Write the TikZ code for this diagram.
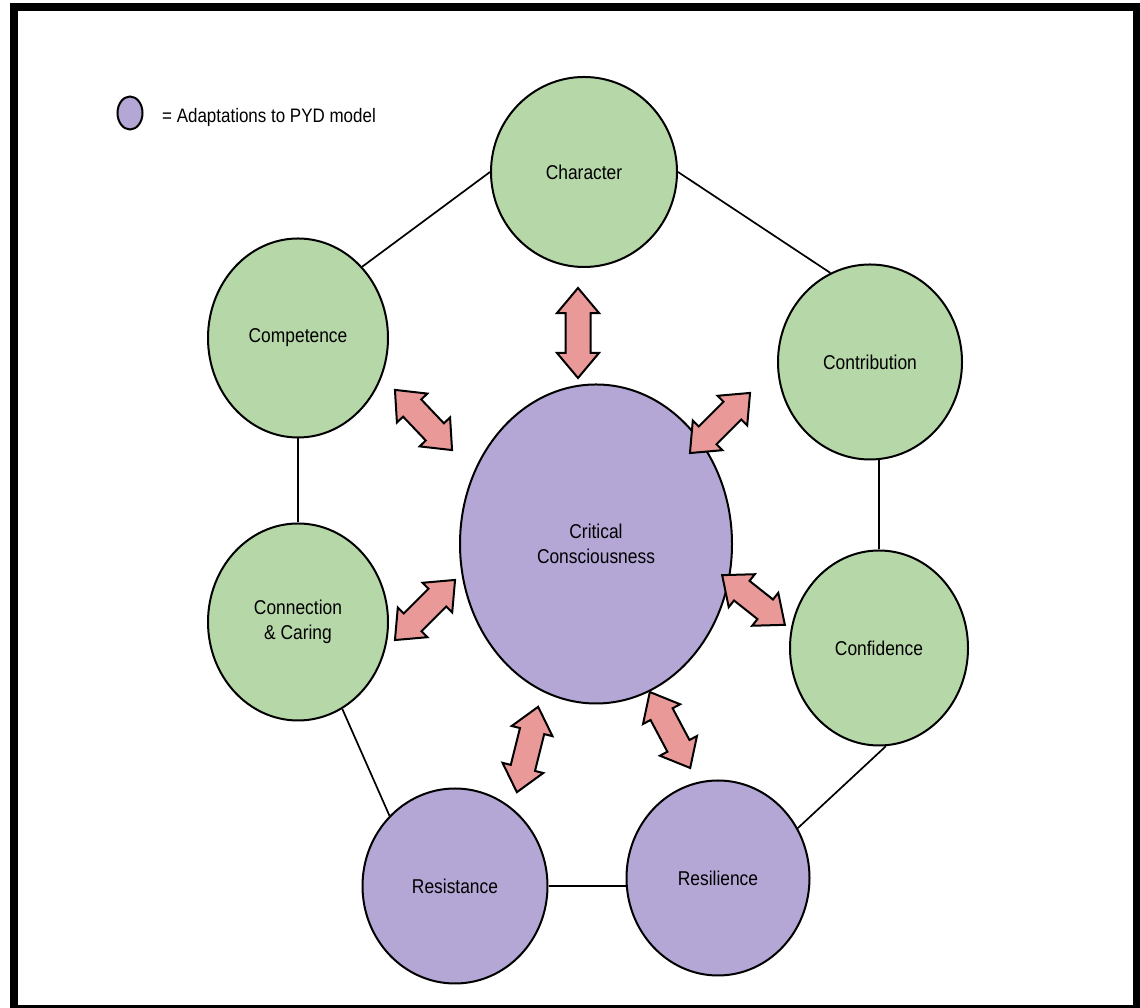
\documentclass[tikz,border=0pt]{standalone}
\usepackage{fontspec}
\setmainfont[FakeStretch=0.87]{Liberation Sans}
\usetikzlibrary{shapes.geometric,shapes.arrows}
\definecolor{pydgreen}{HTML}{B6D7A8}
\definecolor{pydpurple}{HTML}{B4A7D6}
\definecolor{pydred}{HTML}{EA9999}
\begin{document}
\begin{tikzpicture}[x=1pt,y=1pt,
    asset/.style={ellipse,draw=black,line width=2pt,fill=pydgreen,inner sep=0pt,align=center,font=\fontsize{20}{25}\selectfont},
    adapt/.style={asset,fill=pydpurple},
    link/.style={line width=1.7pt},
    twoway/.style={double arrow,draw=black,line width=2pt,fill=pydred,inner xsep=0pt,inner ysep=11.5pt,minimum width=40pt,double arrow head extend=8.5pt,double arrow tip angle=80}]
    \useasboundingbox (0,0) rectangle (1140,1008);
    % frame
    \fill[black] (10,0) rectangle (1140,1005);
    \fill[white] (18,3) rectangle (1133,997);
    % key
    \node[adapt,minimum width=25pt,minimum height=33pt] (key) at (130,895) {};
    \node[anchor=base west,inner sep=0pt,font=\fontsize{19.5}{22}\selectfont] (keytext) at (162,885) {= Adaptations to PYD model};
    % the circles
    \node[asset,minimum width=186pt,minimum height=190pt] (char) at (584,836) {Character};
    \node[asset,minimum width=180pt,minimum height=199pt] (comp) at (298,670) {Competence};
    \node[asset,minimum width=184pt,minimum height=195pt] (contr) at (870,646) {Contribution};
    \node[asset,minimum width=178pt,minimum height=195pt] (conf) at (879,360) {Confidence};
    \node[asset,minimum width=180pt,minimum height=197pt] (conn) at (298,386) {Connection\\\& Caring};
    \node[adapt,minimum width=185pt,minimum height=195pt] (resist) at (455,122) {Resistance};
    \node[adapt,minimum width=183pt,minimum height=195pt] (resil) at (718,130) {Resilience};
    \node[adapt,minimum width=272pt,minimum height=319pt] (cc) at (596,464) {Critical\\Consciousness};
    % outer ring
    \draw[link] (char.west) -- (comp.48);
    \draw[link] (char.east) -- (contr.114);
    \draw[link] (comp.south) -- (conn.north);
    \draw[link] (conf.north) -- (conf.north |- contr.south);
    \draw[link] (conn.-63) -- (resist.133);
    \draw[link] (resist.east) -- (resist.east -| resil.west);
    \draw[link] (resil.32) -- (conf.-86);
    % two-way arrows
    \node[twoway,minimum height=90pt,rotate=90] (tochar) at (578,675) {};
    \node[twoway,minimum height=83pt,rotate=-46.5] (tocomp) at (423.5,588) {};
    \node[twoway,minimum height=85pt,rotate=45] (tocontr) at (720,585) {};
    \node[twoway,minimum height=85pt,rotate=45] (toconn) at (425,398) {};
    \node[twoway,minimum height=80pt,rotate=-38.4] (toconf) at (753.5,408) {};
    \node[twoway,minimum height=88pt,rotate=76] (toresist) at (527.5,258.5) {};
    \node[twoway,minimum height=86pt,rotate=-62] (toresil) at (670,278) {};
\end{tikzpicture}
\end{document}
